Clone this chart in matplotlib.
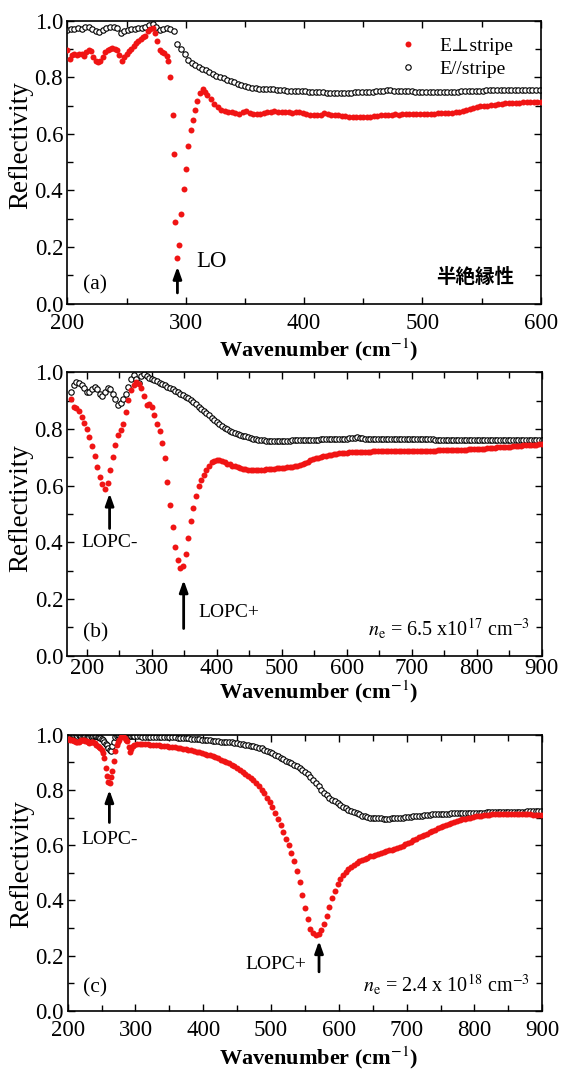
import numpy as np
import matplotlib
matplotlib.use("Agg")
import matplotlib.pyplot as plt
from matplotlib.ticker import MultipleLocator, FormatStrFormatter

plt.rcParams['font.family'] = ['Liberation Serif', 'DejaVu Serif']
plt.rcParams['mathtext.fontset'] = 'stix'

# ---------------- Panel (a): semi-insulating ----------------
a_perp_r1 = [0.895, 0.864, 0.878, 0.882, 0.880, 0.883, 0.881, 0.877, 0.888, 0.898,
             0.893, 0.872, 0.858, 0.853, 0.857, 0.870, 0.888, 0.897, 0.901, 0.902,
             0.900, 0.896, 0.878, 0.858, 0.872, 0.883, 0.893, 0.899, 0.910, 0.920,
             0.930, 0.937, 0.942, 0.946, 0.962, 0.972, 0.975, 0.958, 0.928, 0.897,
             0.889, 0.885, 0.875]  # 200.. step 2
a_perp_wn2 = [285.2, 287.0, 289.0, 290.4, 291.1, 292.7, 294.6, 296.4, 298.6, 300.3,
              302.2, 304.3, 306.2, 308.2, 309.8, 312.0, 314.2, 316.2]
a_perp_r2 = [0.858, 0.802, 0.667, 0.530, 0.287, 0.160, 0.209, 0.317, 0.406, 0.476,
             0.556, 0.614, 0.648, 0.683, 0.717, 0.746, 0.758, 0.749]
a_perp_r3 = [0.738, 0.722, 0.706, 0.695, 0.685, 0.680, 0.679, 0.677, 0.674, 0.671,
             0.676, 0.680, 0.675, 0.672, 0.671, 0.670, 0.673, 0.676, 0.679, 0.680,
             0.676, 0.677, 0.678, 0.677, 0.675, 0.677, 0.679, 0.675, 0.670, 0.668,
             0.667, 0.667, 0.668, 0.673, 0.669, 0.667, 0.666, 0.665, 0.664, 0.663,
             0.661, 0.660, 0.659, 0.658, 0.658, 0.660, 0.661, 0.663, 0.664, 0.665,
             0.666, 0.667, 0.668, 0.669, 0.668, 0.669, 0.670, 0.669, 0.669, 0.670,
             0.670, 0.671, 0.671, 0.671, 0.672, 0.673, 0.674, 0.674, 0.675, 0.675,
             0.676, 0.678, 0.681, 0.685, 0.688, 0.691, 0.694, 0.697, 0.699, 0.700,
             0.701, 0.703, 0.705, 0.706, 0.708, 0.708, 0.709, 0.710, 0.710, 0.711,
             0.712, 0.713, 0.714, 0.714, 0.712]  # 318.. step 3
a_par_r = [0.967, 0.970, 0.972, 0.973, 0.971, 0.976, 0.978, 0.972, 0.965, 0.961,
           0.968, 0.975, 0.979, 0.977, 0.973, 0.958, 0.962, 0.966, 0.970, 0.972,
           0.973, 0.974, 0.978, 0.985, 0.990, 0.978, 0.967, 0.972, 0.975, 0.970,
           0.963, 0.918, 0.900, 0.881, 0.861, 0.850, 0.844, 0.838, 0.831, 0.825,
           0.818, 0.812, 0.806, 0.801, 0.796, 0.791, 0.786, 0.782, 0.777, 0.772,
           0.768, 0.765, 0.763, 0.761, 0.760, 0.760, 0.759, 0.759, 0.758, 0.756,
           0.755, 0.754, 0.753, 0.752, 0.751, 0.751, 0.750, 0.750, 0.749, 0.748,
           0.748, 0.747, 0.747, 0.746, 0.746, 0.746, 0.746, 0.746, 0.746, 0.746,
           0.746, 0.747, 0.747, 0.747, 0.748, 0.748, 0.749, 0.750, 0.751, 0.752,
           0.754, 0.754, 0.753, 0.752, 0.751, 0.751, 0.750, 0.750, 0.749, 0.749,
           0.749, 0.749, 0.749, 0.749, 0.749, 0.749, 0.749, 0.749, 0.749, 0.749,
           0.749, 0.750, 0.750, 0.751, 0.752, 0.752, 0.753, 0.753, 0.754, 0.754,
           0.754, 0.754, 0.754, 0.754, 0.754, 0.754, 0.754, 0.754, 0.754, 0.754,
           0.755, 0.755, 0.755, 0.755]  # 200.. step 3

# ---------------- Panel (b): n_e = 6.5e17 ----------------
b_perp_r = [0.905, 0.878, 0.873, 0.862, 0.842, 0.820, 0.800, 0.773, 0.741, 0.704,
            0.667, 0.632, 0.605, 0.589, 0.610, 0.656, 0.702, 0.742, 0.780, 0.797,
            0.818, 0.860, 0.902, 0.936, 0.955, 0.965, 0.960, 0.943, 0.915, 0.886,
            0.890, 0.878, 0.850, 0.818, 0.792, 0.750, 0.697, 0.612, 0.533, 0.455,
            0.385, 0.336, 0.310, 0.315, 0.358, 0.415, 0.474, 0.522, 0.565, 0.598,
            0.620, 0.639, 0.657, 0.671, 0.682, 0.688, 0.691, 0.690, 0.687, 0.683,
            0.678, 0.675, 0.671, 0.668, 0.665, 0.662, 0.659, 0.658, 0.657, 0.656,
            0.655, 0.655, 0.656, 0.657, 0.657, 0.658, 0.659, 0.660, 0.660, 0.661,
            0.662, 0.663, 0.664, 0.665, 0.666, 0.667, 0.669, 0.671, 0.674, 0.677,
            0.681, 0.685, 0.689, 0.693, 0.696, 0.699, 0.702, 0.704, 0.706, 0.708,
            0.710, 0.711, 0.712, 0.714, 0.715, 0.716, 0.717, 0.718, 0.718, 0.719,
            0.719, 0.719, 0.720, 0.720, 0.720, 0.720, 0.721, 0.721, 0.721, 0.721,
            0.722, 0.722, 0.722, 0.722, 0.722, 0.722, 0.722, 0.722, 0.723, 0.723,
            0.723, 0.723, 0.723, 0.723, 0.724, 0.724, 0.724, 0.724, 0.724, 0.724,
            0.724, 0.725, 0.725, 0.725, 0.725, 0.725, 0.726, 0.726, 0.726, 0.726,
            0.726, 0.727, 0.727, 0.728, 0.728, 0.729, 0.729, 0.730, 0.730, 0.731,
            0.732, 0.733, 0.733, 0.734, 0.735, 0.735, 0.736, 0.737, 0.737, 0.738,
            0.739, 0.740, 0.741, 0.741, 0.742, 0.743, 0.743, 0.744, 0.745, 0.745,
            0.746, 0.746]  # 176.. step 4
b_par_r = [0.930, 0.955, 0.967, 0.962, 0.955, 0.945, 0.930, 0.930, 0.940, 0.948,
           0.940, 0.922, 0.915, 0.930, 0.944, 0.940, 0.925, 0.905, 0.886, 0.893,
           0.905, 0.925, 0.948, 0.975, 0.990, 0.975, 0.962, 0.988, 0.993, 0.986,
           0.980, 0.976, 0.972, 0.968, 0.964, 0.959, 0.954, 0.949, 0.944, 0.940,
           0.935, 0.930, 0.925, 0.920, 0.914, 0.908, 0.902, 0.895, 0.887, 0.879,
           0.871, 0.863, 0.856, 0.848, 0.840, 0.833, 0.826, 0.818, 0.811, 0.805,
           0.799, 0.794, 0.790, 0.786, 0.782, 0.779, 0.776, 0.774, 0.772, 0.769,
           0.766, 0.764, 0.762, 0.761, 0.760, 0.759, 0.759, 0.758, 0.758, 0.758,
           0.758, 0.758, 0.758, 0.759, 0.759, 0.760, 0.760, 0.760, 0.761, 0.761,
           0.761, 0.761, 0.762, 0.762, 0.762, 0.762, 0.763, 0.763, 0.763, 0.764,
           0.764, 0.765, 0.765, 0.765, 0.765, 0.766, 0.766, 0.767, 0.767, 0.769,
           0.771, 0.770, 0.767, 0.765, 0.765, 0.765, 0.765, 0.765, 0.765, 0.765,
           0.765, 0.765, 0.765, 0.765, 0.765, 0.765, 0.765, 0.765, 0.765, 0.765,
           0.765, 0.765, 0.764, 0.764, 0.764, 0.764, 0.763, 0.763, 0.763, 0.763,
           0.762, 0.762, 0.762, 0.762, 0.762, 0.762, 0.762, 0.761, 0.761, 0.761,
           0.761, 0.761, 0.761, 0.761, 0.761, 0.761, 0.761, 0.760, 0.760, 0.760,
           0.760, 0.760, 0.760, 0.760, 0.760, 0.760, 0.760, 0.760, 0.760, 0.760,
           0.760, 0.760, 0.760, 0.760, 0.760, 0.760, 0.760, 0.760, 0.761, 0.761,
           0.761, 0.761]  # 176.. step 4

# ---------------- Panel (c): n_e = 2.4e18 ----------------
c_perp_r1 = [0.986, 0.984, 0.982, 0.980, 0.979, 0.977, 0.975, 0.974, 0.975, 0.978,
             0.981, 0.982, 0.980, 0.977, 0.976, 0.973, 0.971, 0.972, 0.974, 0.974,
             0.970, 0.964, 0.960, 0.955, 0.950, 0.943, 0.935, 0.915, 0.880, 0.850,
             0.830, 0.826, 0.845, 0.868, 0.905, 0.940, 0.962, 0.975, 0.982, 0.990,
             0.996, 0.995, 0.988, 0.982, 0.978, 0.955, 0.938, 0.948, 0.958, 0.963]  # 200.. step 2
c_perp_r2 = [0.966, 0.967, 0.967, 0.966, 0.965, 0.964, 0.963, 0.962, 0.961, 0.960,
             0.959, 0.958, 0.957, 0.955, 0.954, 0.952, 0.951, 0.949, 0.947, 0.945,
             0.943, 0.941, 0.938, 0.936, 0.933, 0.931, 0.928, 0.925, 0.922, 0.918,
             0.914, 0.910, 0.905, 0.900, 0.896, 0.890, 0.885, 0.879, 0.873, 0.866,
             0.859, 0.852, 0.844, 0.835, 0.825, 0.814, 0.801, 0.787, 0.772, 0.756,
             0.738, 0.718, 0.696, 0.673, 0.648, 0.623, 0.599, 0.573, 0.541, 0.505,
             0.468, 0.420, 0.372, 0.332, 0.297, 0.280, 0.274, 0.278, 0.292, 0.315,
             0.345, 0.377, 0.408, 0.434, 0.458, 0.477, 0.492, 0.503, 0.513, 0.521,
             0.529, 0.535, 0.541, 0.547, 0.551, 0.555, 0.559, 0.562, 0.566, 0.569,
             0.572, 0.575, 0.578, 0.581, 0.584, 0.587, 0.590, 0.594, 0.598, 0.603,
             0.608, 0.613, 0.618, 0.623, 0.628, 0.632, 0.637, 0.642, 0.646, 0.651,
             0.656, 0.661, 0.666, 0.670, 0.674, 0.677, 0.681, 0.684, 0.687, 0.690,
             0.693, 0.696, 0.698, 0.700, 0.702, 0.704, 0.706, 0.707, 0.708, 0.709,
             0.710, 0.711, 0.711, 0.712, 0.712, 0.712, 0.712, 0.712, 0.712, 0.712,
             0.712, 0.712, 0.712, 0.712, 0.711, 0.711, 0.710, 0.710, 0.709, 0.708]  # 302.. step 4
c_par_r1 = [1.000, 0.999, 0.998, 0.998, 0.999, 0.999, 0.998, 0.997, 0.998, 0.998,
            0.996, 0.994, 0.995, 0.996, 0.993, 0.992, 0.993, 0.994, 0.993, 0.994,
            0.995, 0.994, 0.992, 0.990, 0.988, 0.985, 0.980, 0.974, 0.968, 0.962,
            0.953, 0.944, 0.940, 0.958, 0.975, 0.990, 0.996, 0.998, 0.999, 0.999,
            0.998, 0.998, 0.997, 0.997, 0.996, 0.995, 0.994, 0.994, 0.994, 0.994]  # 200.. step 2
c_par_r2 = [0.994, 0.994, 0.993, 0.993, 0.993, 0.992, 0.992, 0.992, 0.991, 0.991,
            0.991, 0.991, 0.991, 0.990, 0.990, 0.989, 0.989, 0.988, 0.988, 0.987,
            0.986, 0.985, 0.984, 0.983, 0.982, 0.981, 0.980, 0.979, 0.978, 0.977,
            0.976, 0.975, 0.974, 0.974, 0.973, 0.972, 0.971, 0.970, 0.968, 0.966,
            0.964, 0.962, 0.960, 0.958, 0.956, 0.953, 0.950, 0.946, 0.942, 0.938,
            0.933, 0.928, 0.922, 0.916, 0.911, 0.906, 0.901, 0.896, 0.890, 0.885,
            0.879, 0.873, 0.866, 0.857, 0.847, 0.836, 0.824, 0.813, 0.801, 0.790,
            0.780, 0.772, 0.765, 0.758, 0.751, 0.745, 0.739, 0.733, 0.728, 0.723,
            0.719, 0.715, 0.711, 0.707, 0.704, 0.702, 0.700, 0.699, 0.698, 0.697,
            0.697, 0.696, 0.696, 0.696, 0.697, 0.697, 0.698, 0.699, 0.700, 0.701,
            0.702, 0.703, 0.704, 0.705, 0.706, 0.707, 0.708, 0.709, 0.710, 0.711,
            0.712, 0.712, 0.713, 0.713, 0.714, 0.714, 0.715, 0.715, 0.715, 0.716,
            0.716, 0.716, 0.717, 0.717, 0.717, 0.718, 0.718, 0.718, 0.718, 0.719,
            0.719, 0.719, 0.719, 0.720, 0.720, 0.720, 0.720, 0.720, 0.721, 0.721,
            0.721, 0.721, 0.721, 0.721, 0.722, 0.722, 0.722, 0.722, 0.722, 0.722]  # 302.. step 4

# wavenumber grids of the sampled points
a_perp_wn = np.concatenate([200 + 2 * np.arange(len(a_perp_r1)), a_perp_wn2,
                            318 + 3 * np.arange(len(a_perp_r3))])
a_perp = np.concatenate([a_perp_r1, a_perp_r2, a_perp_r3])
a_par_wn = 200 + 3 * np.arange(len(a_par_r))
b_perp_wn = 176 + 4 * np.arange(len(b_perp_r))
b_par_wn = 176 + 4 * np.arange(len(b_par_r))
c_perp_wn = np.concatenate([200 + 2 * np.arange(len(c_perp_r1)), 302 + 4 * np.arange(len(c_perp_r2))])
c_perp = np.concatenate([c_perp_r1, c_perp_r2])
c_par_wn = np.concatenate([200 + 2 * np.arange(len(c_par_r1)), 302 + 4 * np.arange(len(c_par_r2))])
c_par = np.concatenate([c_par_r1, c_par_r2])

legend_labels = ['E\u22a5stripe', 'E//stripe']
panel_tags = ['(a)', '(b)', '(c)']
x_limits = [(200, 600), (170, 900), (200, 900)]

RED = '#f01414'
fig = plt.figure(figsize=(5.66, 10.73), dpi=100)
positions = [[0.119, 0.7170, 0.8364, 0.2637],
             [0.119, 0.3889, 0.8380, 0.2641],
             [0.1196, 0.0580, 0.8385, 0.2573]]
axes = [fig.add_axes(p) for p in positions]

series = [(a_par_wn, a_par_r, a_perp_wn, a_perp),
          (b_par_wn, b_par_r, b_perp_wn, b_perp_r),
          (c_par_wn, c_par, c_perp_wn, c_perp)]

xtick_pads = [7.0, 1.5, 7.0]
xlabel_y = [-0.117, -0.082, -0.122]
ylabel_y = [0.56, 0.52, 0.53]
tag_y = [0.033, 0.048, 0.047]

for i, ax in enumerate(axes):
    pw, pr, sw, sr = series[i]
    ax.plot(pw, pr, 'o', ms=3.9, mfc='white', mec='black', mew=0.8,
            label=legend_labels[1], zorder=2)
    ax.plot(sw, sr, 'o', ms=4.3, color=RED, mec='none', label=legend_labels[0], zorder=3)
    ax.set_xlim(*x_limits[i])
    ax.set_ylim(0.0, 1.0)
    ax.xaxis.set_major_locator(MultipleLocator(100))
    ax.xaxis.set_minor_locator(MultipleLocator(50))
    ax.yaxis.set_major_locator(MultipleLocator(0.2))
    ax.yaxis.set_minor_locator(MultipleLocator(0.1))
    ax.yaxis.set_major_formatter(FormatStrFormatter('%.1f'))
    ax.tick_params(which='both', direction='in', top=True, right=True, width=1.0)
    ax.tick_params(which='major', length=5, labelsize=16.5)
    ax.tick_params(which='minor', length=4)
    ax.tick_params(axis='x', pad=xtick_pads[i])
    ax.tick_params(axis='y', pad=3)
    for s in ax.spines.values():
        s.set_linewidth(1.2)
    ax.set_ylabel('Reflectivity', fontsize=19.5)
    ax.yaxis.set_label_coords(-0.071, ylabel_y[i])
    ax.set_xlabel('Wavenumber (cm$^{-1}$)', fontsize=16, fontweight='bold')
    ax.xaxis.set_label_coords(0.53, xlabel_y[i])
    ax.text(0.033, tag_y[i], panel_tags[i], transform=ax.transAxes, fontsize=15.5,
            ha='left', va='bottom')

# legend in panel (a)
h, l = axes[0].get_legend_handles_labels()
axes[0].legend([h[1], h[0]], [l[1], l[0]], loc='upper left', bbox_to_anchor=(0.70, 0.94),
               frameon=False, fontsize=14, handlelength=1.0, handletextpad=1.1,
               borderpad=0, borderaxespad=0, labelspacing=0.25, markerscale=1.0)

arrow_kw = dict(arrowstyle='-|>,head_width=0.25,head_length=0.7', color='black', lw=2.0,
                shrinkA=0, shrinkB=0)

# Panel (a) annotations
ax = axes[0]
ax.annotate('', xy=(293, 0.131), xytext=(293, 0.038), arrowprops=arrow_kw)
ax.text(309, 0.148, 'LO', fontsize=16.5, ha='left', va='center')
ax.text(0.861, 0.092, '半絶縁性', transform=ax.transAxes, fontsize=14, fontweight='bold',
        family=['Noto Sans CJK JP', 'DejaVu Sans'], ha='center', va='center')

# Panel (b) annotations
ax = axes[1]
ax.annotate('', xy=(235, 0.573), xytext=(235, 0.449), arrowprops=arrow_kw)
ax.text(235, 0.400, 'LOPC-', fontsize=14, ha='center', va='center')
ax.annotate('', xy=(349, 0.267), xytext=(349, 0.096), arrowprops=arrow_kw)
ax.text(372, 0.152, 'LOPC+', fontsize=14, ha='left', va='center')
ax.text(0.975, 0.07, r'$n_{\mathrm{e}}$ = 6.5 x10$^{17}$ cm$^{-3}$', transform=ax.transAxes,
        fontsize=14.5, ha='right', va='baseline')

# Panel (c) annotations
ax = axes[2]
ax.annotate('', xy=(570.7, 0.253), xytext=(570.7, 0.141), arrowprops=arrow_kw)
ax.annotate('', xy=(261.5, 0.800), xytext=(261.5, 0.682), arrowprops=arrow_kw)
ax.text(261.5, 0.622, 'LOPC-', fontsize=14, ha='center', va='center')
ax.text(552, 0.168, 'LOPC+', fontsize=14, ha='right', va='center')
ax.text(0.974, 0.07, r'$n_{\mathrm{e}}$ = 2.4 x 10$^{18}$ cm$^{-3}$', transform=ax.transAxes,
        fontsize=14.5, ha='right', va='baseline')

fig.savefig('out.png', dpi=100)
